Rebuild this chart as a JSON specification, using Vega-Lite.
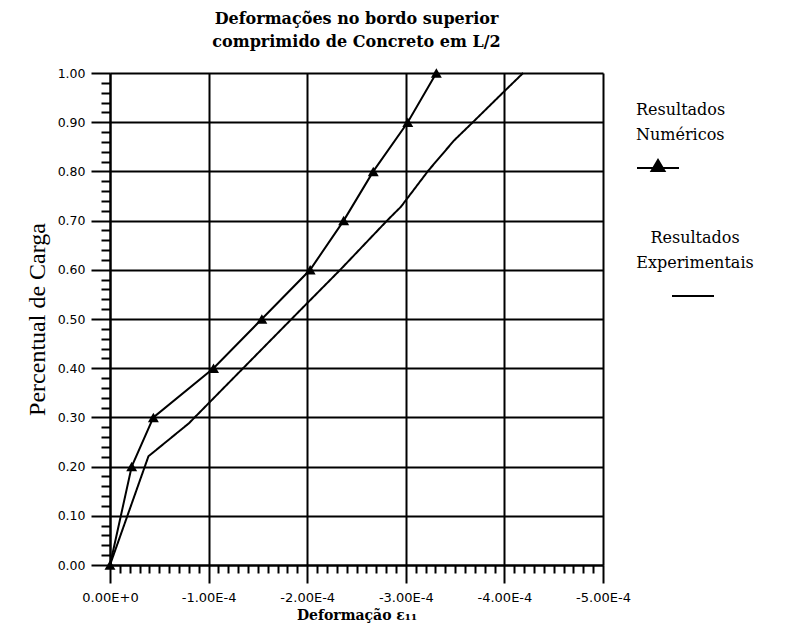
{
  "$schema": "https://vega.github.io/schema/vega-lite/v6.json",
  "width": 493,
  "height": 492,
  "autosize": {"type": "none"},
  "padding": {"left": 110, "top": 73, "right": 183, "bottom": 78},
  "background": "white",
  "title": {
    "text": ["Deformações no bordo superior", "comprimido de Concreto em L/2"],
    "font": "DejaVu Serif", "fontSize": 16, "fontWeight": "bold", "lineHeight": 23,
    "anchor": "middle", "offset": 17, "color": "black"
  },
  "config": {"view": {"stroke": null}},
  "data": {"values": [
    {"serie": "Numéricos", "x": 0, "y": 0},
    {"serie": "Numéricos", "x": -0.000022, "y": 0.2},
    {"serie": "Numéricos", "x": -0.000044, "y": 0.3},
    {"serie": "Numéricos", "x": -0.000105, "y": 0.4},
    {"serie": "Numéricos", "x": -0.000154, "y": 0.5},
    {"serie": "Numéricos", "x": -0.000203, "y": 0.6},
    {"serie": "Numéricos", "x": -0.000237, "y": 0.7},
    {"serie": "Numéricos", "x": -0.000267, "y": 0.8},
    {"serie": "Numéricos", "x": -0.000302, "y": 0.9},
    {"serie": "Numéricos", "x": -0.000331, "y": 1.0},
    {"serie": "Experimentais", "x": 0, "y": 0},
    {"serie": "Experimentais", "x": -0.000039, "y": 0.221},
    {"serie": "Experimentais", "x": -0.000080, "y": 0.288},
    {"serie": "Experimentais", "x": -0.000193, "y": 0.518},
    {"serie": "Experimentais", "x": -0.000234, "y": 0.601},
    {"serie": "Experimentais", "x": -0.000281, "y": 0.700},
    {"serie": "Experimentais", "x": -0.000295, "y": 0.728},
    {"serie": "Experimentais", "x": -0.000323, "y": 0.802},
    {"serie": "Experimentais", "x": -0.000349, "y": 0.863},
    {"serie": "Experimentais", "x": -0.000367, "y": 0.898},
    {"serie": "Experimentais", "x": -0.000399, "y": 0.961},
    {"serie": "Experimentais", "x": -0.000419, "y": 1.0}
  ]},
  "encoding": {
    "x": {
      "field": "x", "type": "quantitative",
      "scale": {"domain": [0, -0.0005], "nice": false, "zero": false},
      "axis": {
        "title": "Deformação ε₁₁",
        "titleFont": "DejaVu Serif", "titleFontSize": 14, "titleFontWeight": "bold", "titleColor": "black", "titlePadding": 4,
        "values": [0, -0.00001, -0.00002, -0.00003, -0.00004, -0.00005, -0.00006, -0.00007, -0.00008, -0.00009,
                   -0.0001, -0.00011, -0.00012, -0.00013, -0.00014, -0.00015, -0.00016, -0.00017, -0.00018, -0.00019,
                   -0.0002, -0.00021, -0.00022, -0.00023, -0.00024, -0.00025, -0.00026, -0.00027, -0.00028, -0.00029,
                   -0.0003, -0.00031, -0.00032, -0.00033, -0.00034, -0.00035, -0.00036, -0.00037, -0.00038, -0.00039,
                   -0.0004, -0.00041, -0.00042, -0.00043, -0.00044, -0.00045, -0.00046, -0.00047, -0.00048, -0.00049, -0.0005],
        "labelExpr": "abs(datum.value*10000 - round(datum.value*10000)) < 1e-6 ? (datum.value == 0 ? '0.00E+0' : '-' + format(-datum.value*10000, '.2f') + 'E-4') : ''",
        "labelFont": "DejaVu Sans", "labelFontSize": 13, "labelColor": "black", "labelPadding": 8,
        "labelOverlap": false, "labelFlush": false, "labelBound": false,
        "tickSize": {"condition": {"test": "abs(datum.value*10000 - round(datum.value*10000)) < 1e-6", "value": 18}, "value": 8},
        "tickColor": "black", "tickWidth": 2,
        "grid": true, "gridColor": "black", "gridWidth": 2,
        "gridOpacity": {"condition": {"test": "abs(datum.value*10000 - round(datum.value*10000)) < 1e-6", "value": 1}, "value": 0},
        "domainColor": "black", "domainWidth": 2
      }
    },
    "y": {
      "field": "y", "type": "quantitative",
      "scale": {"domain": [0, 1], "nice": false, "zero": false},
      "axis": {
        "title": "Percentual de Carga",
        "titleFont": "Liberation Serif", "titleFontSize": 24, "titleFontWeight": "normal", "titleColor": "black", "titlePadding": 8,
        "values": [0, 0.02, 0.04, 0.06, 0.08, 0.1, 0.12, 0.14, 0.16, 0.18, 0.2, 0.22, 0.24, 0.26, 0.28, 0.3, 0.32, 0.34, 0.36, 0.38,
                   0.4, 0.42, 0.44, 0.46, 0.48, 0.5, 0.52, 0.54, 0.56, 0.58, 0.6, 0.62, 0.64, 0.66, 0.68, 0.7, 0.72, 0.74, 0.76, 0.78,
                   0.8, 0.82, 0.84, 0.86, 0.88, 0.9, 0.92, 0.94, 0.96, 0.98, 1.0],
        "labelExpr": "abs(datum.value*10 - round(datum.value*10)) < 1e-6 ? format(datum.value, '.2f') : ''",
        "labelFont": "DejaVu Sans", "labelFontSize": 12.5, "labelColor": "black", "labelPadding": 6,
        "labelOverlap": false, "labelFlush": false, "labelBound": false,
        "tickSize": {"condition": {"test": "abs(datum.value*10 - round(datum.value*10)) < 1e-6", "value": 19}, "value": 9},
        "tickColor": "black", "tickWidth": 2,
        "grid": true, "gridColor": "black", "gridWidth": 2,
        "gridOpacity": {"condition": {"test": "abs(datum.value*10 - round(datum.value*10)) < 1e-6", "value": 1}, "value": 0},
        "domainColor": "black", "domainWidth": 2
      }
    }
  },
  "layer": [
    {
      "transform": [{"filter": "datum.serie == 'Experimentais'"}],
      "mark": {"type": "line", "color": "black", "strokeWidth": 2},
      "encoding": {
        "strokeDash": {
          "field": "serie", "type": "nominal",
          "scale": {"range": [[1, 0]]},
          "legend": {
            "orient": "none", "legendX": 526, "legendY": 157,
            "title": ["Resultados", "Experimentais"],
            "titleFont": "DejaVu Serif", "titleFontSize": 16, "titleFontWeight": "normal", "titleLineHeight": 25,
            "titleColor": "black", "titlePadding": 3, "titleAlign": "center", "titleAnchor": "middle",
            "labelExpr": "''",
            "symbolType": "stroke", "symbolSize": 1764, "symbolStrokeWidth": 2, "symbolStrokeColor": "black",
            "padding": 0, "offset": 0
          }
        }
      }
    },
    {
      "transform": [{"filter": "datum.serie == 'Numéricos'"}],
      "mark": {"type": "line", "strokeWidth": 2},
      "encoding": {
        "color": {
          "field": "serie", "type": "nominal",
          "scale": {"range": ["black"]},
          "legend": {
            "orient": "none", "legendX": 526, "legendY": 29,
            "title": ["Resultados", "Numéricos"],
            "titleFont": "DejaVu Serif", "titleFontSize": 16, "titleFontWeight": "normal", "titleLineHeight": 25,
            "titleColor": "black", "titlePadding": 3,
            "labelExpr": "''",
            "symbolType": "M-1,0L1,0M-0.31,0.14L0,-0.38L0.31,0.14Z",
            "symbolSize": 1764, "symbolStrokeWidth": 2, "symbolStrokeColor": "black", "symbolFillColor": "black",
            "padding": 0, "offset": 0
          }
        }
      }
    },
    {
      "transform": [{"filter": "datum.serie == 'Numéricos'"}],
      "mark": {"type": "point", "shape": "triangle-up", "filled": true, "color": "black", "size": 120, "opacity": 1}
    }
  ]
}
